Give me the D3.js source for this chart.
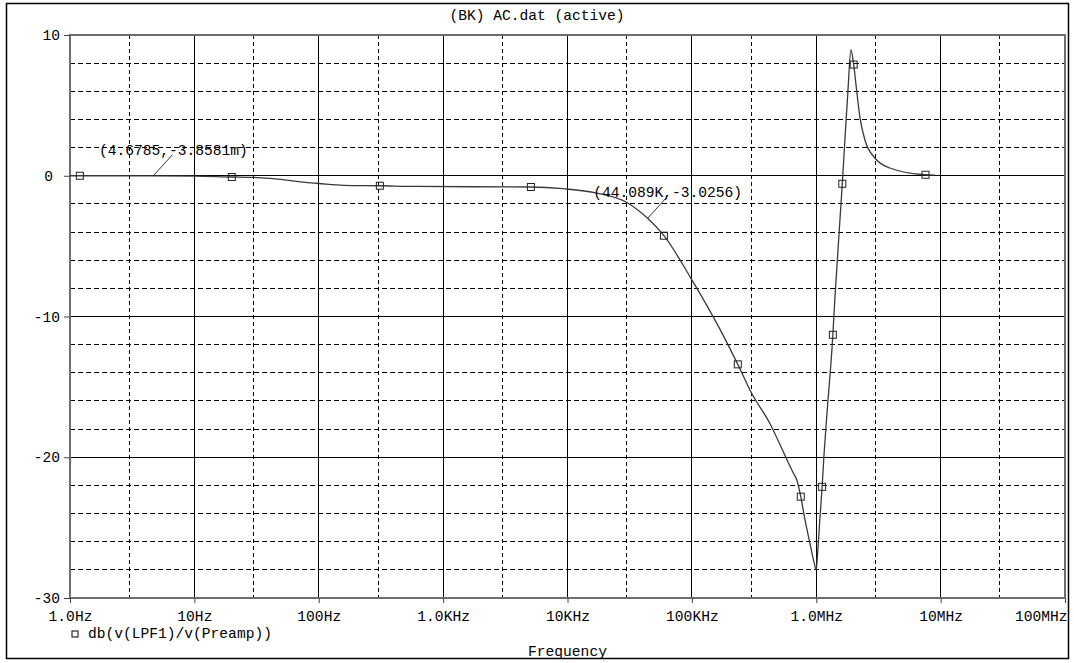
<!DOCTYPE html>
<html>
<head>
<meta charset="utf-8">
<script src="https://cdn.jsdelivr.net/npm/d3@7"></script>
<style>
  html, body { margin: 0; padding: 0; background: #fff; }
  svg { display: block; }
  text { font-family: "Liberation Mono", "DejaVu Sans Mono", monospace; fill: #000; }
</style>
</head>
<body>
<svg id="chart" width="1074" height="663"></svg>
<script>
// ---- data ----
const titleText = "(BK) AC.dat (active)";
const xTickValues = [1, 10, 100, 1e3, 1e4, 1e5, 1e6, 1e7, 1e8];
const xTickLabels = ["1.0Hz", "10Hz", "100Hz", "1.0KHz", "10KHz", "100KHz", "1.0MHz", "10MHz", "100MHz"];
const yTickValues = [10, 0, -10, -20, -30];
const yTickLabels = ["10", "0", "-10", "-20", "-30"];
const seriesName = "db(v(LPF1)/v(Preamp))";

const curveFreq = [1, 4.6785, 10, 20, 30, 100, 160, 310, 600, 5000, 9200, 17200, 30000, 44089, 59600,
  100000, 168000, 234000, 300000, 424000, 576000, 652000, 700000, 751000, 810000, 889000, 962000,
  1000000, 1017000, 1036000, 1069000, 1115000, 1157000, 1210000, 1360000, 1410000, 1620000,
  1700000, 1800000, 1900000, 2000000, 2110000, 2240000, 2460000, 2960000, 3910000, 7560000, 8980000];
const curveDb = [0, -0.0039, -0.02, -0.09, -0.12, -0.55, -0.68, -0.71, -0.76, -0.8, -0.92, -1.23, -1.9, -3.0256, -4.26,
  -7.4, -10.9, -13.4, -15.4, -17.6, -20.1, -21.1, -21.65, -22.8, -24.4, -26.1, -27.5,
  -28.0, -27.3, -26.3, -24.4, -22.1, -19.7, -17.3, -11.3, -8.8, -0.57,
  2.56, 6.1, 8.96, 7.9, 6.1, 4.2, 2.56, 1.26, 0.55, 0.07, 0.05];

const markerFreq = [1.2, 20, 310, 5080, 59600, 234000, 751000, 1115000, 1360000, 1620000, 2000000, 7560000];
const markerDb = [0, -0.09, -0.71, -0.8, -4.26, -13.4, -22.8, -22.1, -11.3, -0.57, 7.9, 0.07];

const annotFreq = [4.6785, 44089];
const annotDb = [-0.0038581, -3.0256];
const annotLabels = ["(4.6785,-3.8581m)", "(44.089K,-3.0256)"];

// ---- layout ----
const svg = d3.select("#chart");
const L = 70, R = 1065, T = 35, B = 598;
const x = d3.scaleLog().domain([1, 1e8]).range([L, R]);
const y = d3.scaleLinear().domain([-30, 10]).range([B, T]);
const fs = "14.6px";

// outer frame
svg.append("rect").attr("x", 6.5).attr("y", 3.5).attr("width", 1062).attr("height", 655)
  .attr("fill", "none").attr("stroke", "#000").attr("stroke-width", 1.5);

// title
svg.append("text").attr("x", 537).attr("y", 20).attr("text-anchor", "middle")
  .style("font-size", fs).text(titleText);

// grid
const g = svg.append("g").attr("shape-rendering", "crispEdges");
const decades = d3.range(1, 8).map(k => Math.pow(10, k));
const threes = d3.range(0, 8).map(k => 3 * Math.pow(10, k));
g.selectAll(".vsol").data(decades).enter().append("line")
  .attr("x1", d => x(d)).attr("x2", d => x(d)).attr("y1", T).attr("y2", B)
  .attr("stroke", "#000").attr("stroke-width", 1);
g.selectAll(".vdash").data(threes).enter().append("line")
  .attr("x1", d => x(d)).attr("x2", d => x(d)).attr("y1", T).attr("y2", B)
  .attr("stroke", "#000").attr("stroke-width", 1).attr("stroke-dasharray", "4,3");
const hSolid = [0, -10, -20];
const hDash = d3.range(-28, 10, 2).filter(v => v % 10 !== 0);
g.selectAll(".hsol").data(hSolid).enter().append("line")
  .attr("x1", L).attr("x2", R).attr("y1", d => y(d)).attr("y2", d => y(d))
  .attr("stroke", "#000").attr("stroke-width", 1);
g.selectAll(".hdash").data(hDash).enter().append("line")
  .attr("x1", L).attr("x2", R).attr("y1", d => y(d)).attr("y2", d => y(d))
  .attr("stroke", "#000").attr("stroke-width", 1).attr("stroke-dasharray", "5,3");

// plot border
g.append("rect").attr("x", L).attr("y", T).attr("width", R - L).attr("height", B - T)
  .attr("fill", "none").attr("stroke", "#6e6e6e").attr("stroke-width", 1.5);

// axes (ticks + labels)
const xAxis = d3.axisBottom(x).tickValues(xTickValues)
  .tickFormat((d, i) => xTickLabels[i]).tickSize(5).tickPadding(8);
const gx = svg.append("g").attr("transform", `translate(0,${B})`).call(xAxis);
gx.select(".domain").remove();
gx.selectAll(".tick line").attr("stroke", "#444");
gx.selectAll(".tick text").style("font-size", fs)
  .style("font-family", "'Liberation Mono', monospace")
  .attr("text-anchor", (d, i) => i === xTickValues.length - 1 ? "end" : "middle")
  .attr("dx", (d, i) => i === xTickValues.length - 1 ? "2" : "0");

const yAxis = d3.axisLeft(y).tickValues(yTickValues)
  .tickFormat((d, i) => yTickLabels[i]).tickSize(6).tickPadding(4);
const gy = svg.append("g").attr("transform", `translate(${L},0)`).call(yAxis);
gy.select(".domain").remove();
gy.selectAll(".tick line").attr("stroke", "#444");
gy.selectAll(".tick text").style("font-size", fs)
  .style("font-family", "'Liberation Mono', monospace")
  .attr("dx", d => d === 0 ? "-7" : "0");

// curve
const pts = curveFreq.map((f, i) => [f, curveDb[i]]);
const line = d3.line().x(d => x(d[0])).y(d => y(d[1])).curve(d3.curveMonotoneX);
svg.append("path").attr("d", line(pts)).attr("fill", "none")
  .attr("stroke", "#3a3a3a").attr("stroke-width", 1.3);

// markers
const mk = markerFreq.map((f, i) => [f, markerDb[i]]);
svg.selectAll(".mk").data(mk).enter().append("rect")
  .attr("x", d => x(d[0]) - 3.5).attr("y", d => y(d[1]) - 3.5)
  .attr("width", 7).attr("height", 7)
  .attr("fill", "none").attr("stroke", "#222").attr("stroke-width", 1);

// annotations
const an = annotFreq.map((f, i) => ({ f, v: annotDb[i], label: annotLabels[i] }));
an.forEach(a => {
  const px = x(a.f), py = y(a.v);
  svg.append("line").attr("x1", px).attr("y1", py).attr("x2", px + 19).attr("y2", py - 21)
    .attr("stroke", "#333").attr("stroke-width", 1);
  svg.append("text").attr("x", px + 20).attr("y", py - 21).attr("text-anchor", "middle")
    .style("font-size", fs).text(a.label);
});

// legend
svg.append("rect").attr("x", 72).attr("y", 631).attr("width", 6).attr("height", 6)
  .attr("fill", "none").attr("stroke", "#000").attr("stroke-width", 1);
svg.append("text").attr("x", 88).attr("y", 638).style("font-size", fs).text(seriesName);

// x axis title
svg.append("text").attr("x", (L + R) / 2).attr("y", 656).attr("text-anchor", "middle")
  .style("font-size", fs).text("Frequency");
</script>
</body>
</html>
